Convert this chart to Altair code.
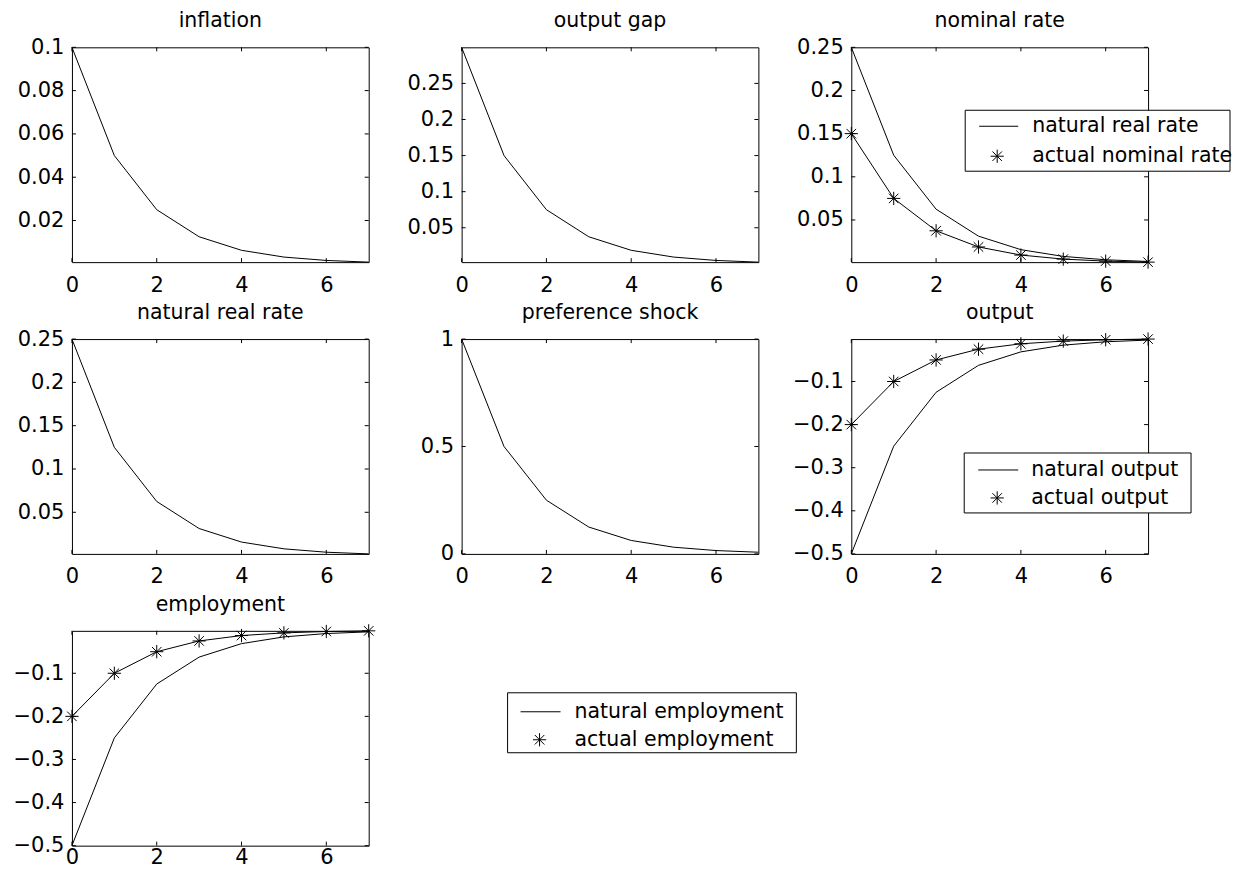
import altair as alt
import pandas as pd

# ---------------- data ----------------
t = [0, 1, 2, 3, 4, 5, 6, 7]
inflation = [0.1, 0.05, 0.025, 0.0125, 0.00625, 0.003125, 0.0015625, 0.00078125]
output_gap = [0.3, 0.15, 0.075, 0.0375, 0.01875, 0.009375, 0.0046875, 0.00234375]
natural_real_rate = [0.25, 0.125, 0.0625, 0.03125, 0.015625, 0.0078125, 0.00390625, 0.001953125]
actual_nominal_rate = [0.15, 0.075, 0.0375, 0.01875, 0.009375, 0.0046875, 0.00234375, 0.001171875]
preference_shock = [1.0, 0.5, 0.25, 0.125, 0.0625, 0.03125, 0.015625, 0.0078125]
natural_output = [-0.5, -0.25, -0.125, -0.0625, -0.03125, -0.015625, -0.0078125, -0.00390625]
actual_output = [-0.2, -0.1, -0.05, -0.025, -0.0125, -0.00625, -0.003125, -0.0015625]
natural_employment = [-0.5, -0.25, -0.125, -0.0625, -0.03125, -0.015625, -0.0078125, -0.00390625]
actual_employment = [-0.2, -0.1, -0.05, -0.025, -0.0125, -0.00625, -0.003125, -0.0015625]

x_ticks = [0, 2, 4, 6]
ticks_inflation = [0.02, 0.04, 0.06, 0.08, 0.1]
ticks_gap = [0.05, 0.1, 0.15, 0.2, 0.25]
ticks_rate = [0.05, 0.1, 0.15, 0.2, 0.25]
ticks_pref = [0, 0.5, 1]
ticks_neg = [-0.5, -0.4, -0.3, -0.2, -0.1]

titles = ["inflation", "output gap", "nominal rate", "natural real rate",
          "preference shock", "output", "employment"]
legend_rate = ["natural real rate", "actual nominal rate"]
legend_output = ["natural output", "actual output"]
legend_employment = ["natural employment", "actual employment"]

# ---------------- styling ----------------
FONT = "DejaVu Sans"
W, H = 297, 215
TICK = 4
STAR = "M0,-1L0,1M-1,0L1,0M-0.72,-0.72L0.72,0.72M-0.72,0.72L0.72,-0.72"
STAR_SIZE = 175


def one(label=""):
    return pd.DataFrame({"label": [label]})


def legend_layers(lg, labels):
    x1, x2, y1, y2 = lg["box"]
    lx1, lx2, ly = lg["line"]
    sx, sy = lg["star"]
    tx = lg["tx"]
    out = [
        alt.Chart(one()).mark_rect(fill="white", stroke="black", strokeWidth=1).encode(
            x=alt.value(x1), x2=alt.value(x2), y=alt.value(y1), y2=alt.value(y2)),
        alt.Chart(one()).mark_rule(color="black", strokeWidth=1).encode(
            x=alt.value(lx1), x2=alt.value(lx2), y=alt.value(ly)),
        alt.Chart(one()).mark_point(shape=STAR, size=STAR_SIZE, filled=False,
                                    color="black", strokeWidth=1, opacity=1).encode(
            x=alt.value(sx), y=alt.value(sy)),
    ]
    for lab, yy in zip(labels, [ly, sy]):
        out.append(alt.Chart(one(lab)).mark_text(
            align="left", baseline="middle", font=FONT, fontSize=20.5, color="black").encode(
            x=alt.value(tx), y=alt.value(yy), text="label:N"))
    return out


def panel(title, series, ydomain, yticks, legend=None, legend_labels=None, xpad=12):
    df = pd.DataFrame({"t": t})
    for i, (vals, _) in enumerate(series):
        df[f"s{i}"] = vals
    xs = alt.Scale(domain=[0, 7], nice=False, zero=False)
    ys = alt.Scale(domain=ydomain, nice=False, zero=False)
    common = dict(format="~g", ticks=False, tickSize=0, domain=False, grid=False,
                  labelFont=FONT, labelFontSize=21, labelColor="black",
                  labelFlush=False, labelOverlap=False, title=None)
    xaxis = alt.Axis(values=x_ticks, labelPadding=xpad, **common)
    yaxis = alt.Axis(values=yticks, labelPadding=8, **common)

    layers = []
    for i, (vals, star) in enumerate(series):
        base = alt.Chart(df).encode(
            x=alt.X("t:Q", scale=xs, axis=xaxis),
            y=alt.Y(f"s{i}:Q", scale=ys, axis=yaxis),
        )
        layers.append(base.mark_line(color="black", strokeWidth=1))
        if star:
            layers.append(base.mark_point(shape=STAR, size=STAR_SIZE, filled=False,
                                          color="black", strokeWidth=1, opacity=1))
    xt = pd.DataFrame({"t": x_ticks})
    yt = pd.DataFrame({"s0": yticks})
    layers += [
        alt.Chart(xt).mark_rule(color="black", strokeWidth=1).encode(
            x=alt.X("t:Q", scale=xs, axis=xaxis), y=alt.value(H), y2=alt.value(H - TICK)),
        alt.Chart(xt).mark_rule(color="black", strokeWidth=1).encode(
            x=alt.X("t:Q", scale=xs, axis=xaxis), y=alt.value(0), y2=alt.value(TICK)),
        alt.Chart(yt).mark_rule(color="black", strokeWidth=1).encode(
            y=alt.Y("s0:Q", scale=ys, axis=yaxis), x=alt.value(0), x2=alt.value(TICK)),
        alt.Chart(yt).mark_rule(color="black", strokeWidth=1).encode(
            y=alt.Y("s0:Q", scale=ys, axis=yaxis), x=alt.value(W), x2=alt.value(W - TICK)),
        # panel title drawn as a text mark so every title sits at the same height
        alt.Chart(one(title)).mark_text(
            align="center", baseline="alphabetic", font=FONT, fontSize=20.5, color="black").encode(
            x=alt.value(W / 2), y=alt.value(-20), text="label:N"),
    ]
    if legend is not None:
        layers += legend_layers(legend, legend_labels)
    return alt.layer(*layers).properties(width=W, height=H)


lg_rate = {"box": (114, 379, 63, 124), "line": (128, 167, 79), "star": (146, 109), "tx": 181}
lg_output = {"box": (113, 340, 114, 174), "line": (127, 167, 131), "star": (146, 159), "tx": 180}
lg_emp = {"box": (436, 725, 62, 122), "line": (449, 489, 81), "star": (468, 109), "tx": 503}

panels = [
    panel(titles[0], [(inflation, False)], [inflation[-1], inflation[0]], ticks_inflation),
    panel(titles[1], [(output_gap, False)], [output_gap[-1], output_gap[0]], ticks_gap),
    panel(titles[2], [(natural_real_rate, False), (actual_nominal_rate, True)],
          [actual_nominal_rate[-1], natural_real_rate[0]], ticks_rate, lg_rate, legend_rate),
    panel(titles[3], [(natural_real_rate, False)],
          [natural_real_rate[-1], natural_real_rate[0]], ticks_rate),
    panel(titles[4], [(preference_shock, False)], [0, 1], ticks_pref),
    panel(titles[5], [(natural_output, False), (actual_output, True)],
          [natural_output[0], actual_output[-1]], ticks_neg, lg_output, legend_output),
    panel(titles[6], [(natural_employment, False), (actual_employment, True)],
          [natural_employment[0], actual_employment[-1]], ticks_neg, lg_emp, legend_employment,
          xpad=1),
]

chart = alt.concat(*panels, columns=3, spacing={"row": 77, "column": 93}, bounds="flush").configure_view(
    stroke="black", strokeWidth=1
).properties(
    padding={"left": 12, "top": 10, "right": 0, "bottom": 0}, background="white"
)

chart.save("out.html", embed_options={"renderer": "svg", "actions": False})
